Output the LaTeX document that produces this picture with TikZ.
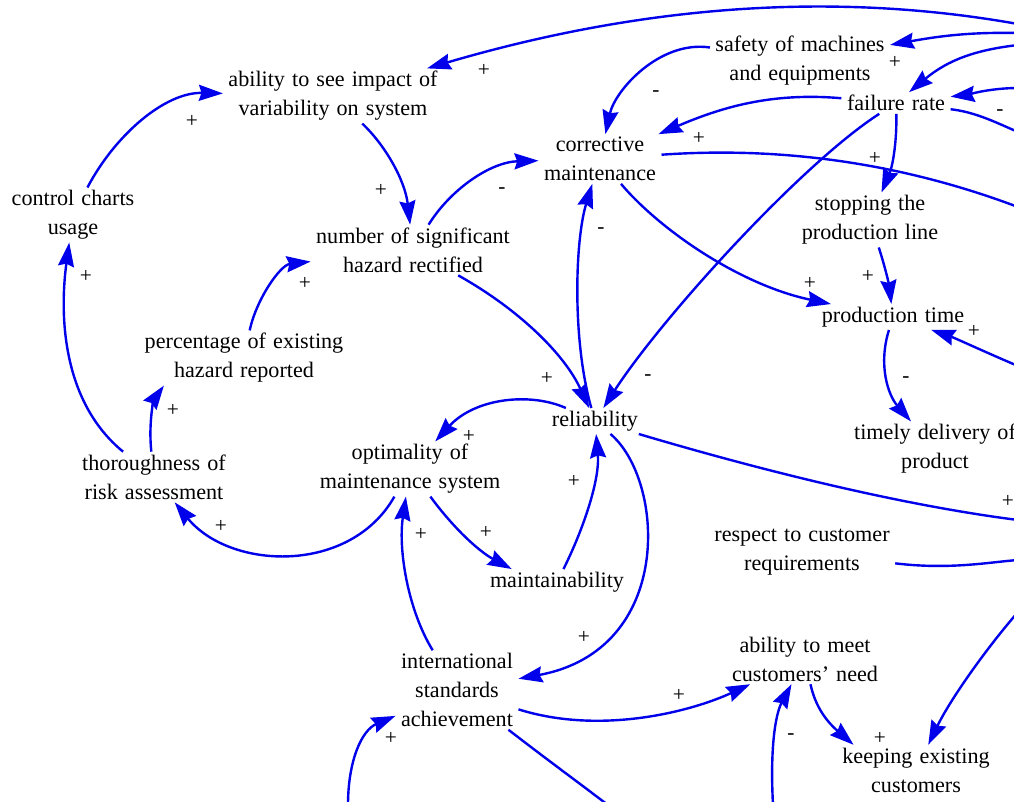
\documentclass[tikz,border=0pt]{standalone}
\usepackage{fontspec}
\setmainfont{Liberation Serif}
\usetikzlibrary{arrows.meta}
\begin{document}
\begin{tikzpicture}[x=0.75pt,y=-0.75pt,
  var/.style={font={\fontsize{16.6}{21.75}\selectfont\spaceskip=0.32em\relax}, align=center, inner xsep=4pt, inner ysep=2pt, text=black},
  link/.style={draw={rgb,255:red,0;green,0;blue,235}, line width=1.8pt, -{Stealth[length=18pt,width=12pt,inset=2pt]}},
  plainlink/.style={draw={rgb,255:red,0;green,0;blue,235}, line width=1.8pt},
  pol/.style={font=\fontsize{16}{16}\selectfont, inner sep=0pt, text=black}]
\useasboundingbox (0,0) rectangle (1014,801);
\fill[white] (0,0) rectangle (1014,801);
\clip (0,0) rectangle (1014,801);

% variables
\node[var] (ab) at (333,96) {ability to see impact of\\variability on system};
\node[var] (cc) at (73,215) {control charts\\usage};
\node[var] (ns) at (413,250) {number of significant\\hazard rectified};
\node[var] (cm) at (600,159) {corrective\\maintenance};
\node[var] (sm) at (800,61) {safety of machines\\and equipments};
\node[var] (fr) at (896,103) {failure rate};
\node[var] (sp) at (870,220) {stopping the\\production line};
\node[var] (pt) at (893,317) {production time};
\node[var] (td) at (935,449) {timely delivery of\\product};
\node[var] (pe) at (244,358) {percentage of existing\\hazard reported};
\node[var] (th) at (154,477) {thoroughness of\\risk assessment};
\node[var] (op) at (410,469) {optimality of\\maintenance system};
\node[var] (re) at (595,421) {reliability};
\node[var] (ma) at (557,582) {maintainability};
\node[var] (rc) at (802,552) {respect to customer\\requirements};
\node[var] (is) at (457,690) {international\\standards\\achievement};
\node[var] (am) at (805,659) {ability to meet\\customers' need};
\node[var] (ke) at (916,770) {keeping existing\\customers};

% off-picture ends
\coordinate (r1) at (1018,24);
\coordinate (r2) at (1018,33);
\coordinate (r3) at (1018,45);
\coordinate (r4) at (1018,88);
\coordinate (r5) at (1018,132);
\coordinate (r8) at (1018,207);
\coordinate (r13) at (1018,366);
\coordinate (r15) at (1018,520);
\coordinate (r30) at (348,805);
\coordinate (r32) at (608,805);
\coordinate (r33) at (773,805);
\coordinate (r35) at (1018,612);
\coordinate (r36) at (1018,560);

% connectors
\draw[link] (r1) .. controls (850,-6) and (660,0) .. (ab);
\draw[link] (r2) .. controls (970,32) and (940,36) .. (sm);
\draw[link] (r3) .. controls (975,50) and (948,60) .. (fr);
\draw[link] (r4) .. controls (990,88) and (965,95) .. (fr);
\draw[plainlink] (fr) .. controls (975,112) and (995,122) .. (r5);
\draw[link] (sm) .. controls (660,40) and (615,90) .. (cm);
\draw[link] (fr) .. controls (770,92) and (720,108) .. (cm);
\draw[plainlink] (cm) .. controls (800,145) and (920,170) .. (r8);
\draw[link] (fr) .. controls (897,140) and (893,165) .. (sp);
\draw[link] (fr) .. controls (800,165) and (660,320) .. (re);
\draw[link] (cm) .. controls (660,230) and (740,285) .. (pt);
\draw[link] (sp) .. controls (886,270) and (889,285) .. (pt);
\draw[link] (r13) .. controls (985,352) and (955,338) .. (pt);
\draw[link] (pt) .. controls (878,365) and (888,395) .. (td);
\draw[plainlink] (re) .. controls (760,470) and (900,505) .. (r15);
\draw[link] (ns) .. controls (450,190) and (490,162) .. (cm);
\draw[link] (ab) .. controls (385,145) and (405,180) .. (ns);
\draw[link] (cc) .. controls (115,135) and (165,92) .. (ab);
\draw[link] (th) .. controls (60,400) and (60,310) .. (cc);
\draw[link] (th) .. controls (148,420) and (155,398) .. (pe.199);
\draw[link] (pe) .. controls (256,300) and (280,265) .. (ns);
\draw[link] (ns) .. controls (520,310) and (565,355) .. (re);
\draw[link] (re) .. controls (572,340) and (575,240) .. (cm);
\draw[link] (re) .. controls (530,392) and (475,398) .. (op);
\draw[link] (op) .. controls (350,575) and (230,570) .. (th);
\draw[link] (op) .. controls (455,530) and (480,552) .. (ma.164);
\draw[link] (ma) .. controls (583,530) and (600,480) .. (re);
\draw[link] (re) .. controls (665,480) and (675,650) .. (is);
\draw[link] (is) .. controls (408,610) and (398,550) .. (op);
\draw[link] (r30) .. controls (348,760) and (362,730) .. (is);
\draw[link] (is) .. controls (600,735) and (690,712) .. (am);
\draw[plainlink] (is) .. controls (545,758) and (575,780) .. (r32);
\draw[link] (r33) .. controls (770,750) and (775,715) .. (am);
\draw[link] (am) .. controls (815,705) and (825,720) .. (ke.158);
\draw[link] (r35) .. controls (985,650) and (950,700) .. (ke);
\draw[plainlink] (rc) .. controls (950,570) and (990,562) .. (r36);

% polarities
\node[pol] (p1) at (484,70) {+};
\node[pol] (p2) at (895,62) {+};
\node[pol] (p3) at (1000,113) {-};
\node[pol] (p4) at (656,94) {-};
\node[pol] (p5) at (699,138) {+};
\node[pol] (p6) at (875,158) {+};
\node[pol] (p7) at (810,283) {+};
\node[pol] (p8) at (868,276) {+};
\node[pol] (p9) at (601,231) {-};
\node[pol] (p10) at (502,191) {-};
\node[pol] (p11) at (381,190) {+};
\node[pol] (p12) at (192,121) {+};
\node[pol] (p13) at (86,276) {+};
\node[pol] (p14) at (305,283) {+};
\node[pol] (p15) at (173,410) {+};
\node[pol] (p16) at (469,436) {+};
\node[pol] (p17) at (221,526) {+};
\node[pol] (p18) at (421,534) {+};
\node[pol] (p19) at (486,532) {+};
\node[pol] (p20) at (547,378) {+};
\node[pol] (p21) at (648,378) {-};
\node[pol] (p22) at (574,481) {+};
\node[pol] (p23) at (974,331) {+};
\node[pol] (p24) at (906,380) {-};
\node[pol] (p25) at (1008,501) {+};
\node[pol] (p26) at (584,637) {+};
\node[pol] (p27) at (391,738) {+};
\node[pol] (p28) at (679,695) {+};
\node[pol] (p29) at (791,737) {-};
\node[pol] (p30) at (880,738) {+};
\end{tikzpicture}
\end{document}
